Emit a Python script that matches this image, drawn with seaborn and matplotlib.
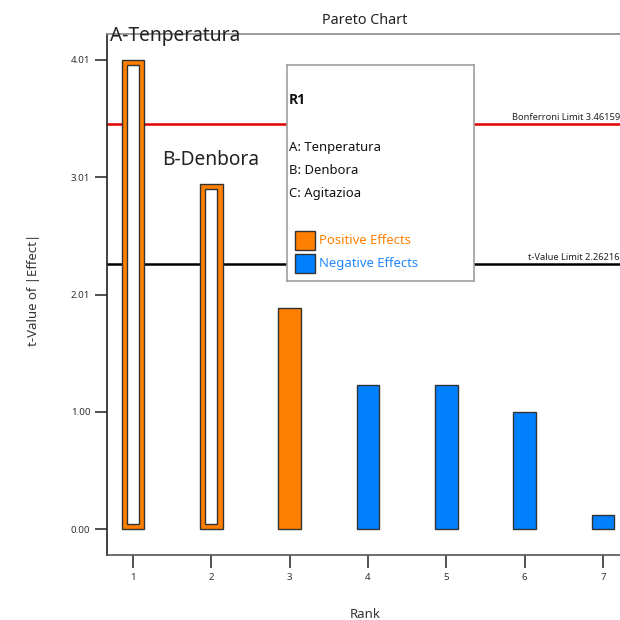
import matplotlib
matplotlib.use("Agg")
import matplotlib.pyplot as plt
import numpy as np
import pandas as pd
import seaborn as sns

# Pareto chart of standardized effects
ranks = [1, 2, 3, 4, 5, 6, 7]
t_values = [4.01, 2.95, 1.89, 1.234, 1.229, 1.00, 0.122]
effect_sign = ["Positive", "Positive", "Positive", "Negative", "Negative", "Negative", "Negative"]
term_labels = {1: "A-Tenperatura", 2: "B-Denbora"}
factor_names = ["A: Tenperatura", "B: Denbora", "C: Agitazioa"]
bonferroni_limit = 3.46159
t_limit = 2.26216
ytick_values = [0.0, 1.0025, 2.005, 3.0075, 4.01]
ytick_labels = ["0.00", "1.00", "2.01", "3.01", "4.01"]

orange = "#FF8000"
blue = "#0080FF"
edge = "#333333"

df = pd.DataFrame({"Rank": ranks, "t": t_values, "Effect": effect_sign})

sns.set_theme(style="white")
plt.rcParams["font.family"] = ["Noto Sans", "DejaVu Sans"]

fig = plt.figure(figsize=(6.2, 6.2), dpi=100)
ax = fig.add_axes([107 / 620, 1 - 555 / 620, 516 / 620, (555 - 34) / 620])

sns.barplot(data=df, x="Rank", y="t", hue="Effect", dodge=False, native_scale=True,
            palette={"Positive": orange, "Negative": blue}, width=0.29, saturation=1,
            edgecolor=edge, linewidth=1.0, legend=False, ax=ax, zorder=3)

# significant terms are drawn hollow
sig = df[df["t"] > t_limit]
inset = 0.045
ax.bar(sig["Rank"], sig["t"] - 2 * inset, bottom=inset, width=0.15,
       color="white", edgecolor=edge, linewidth=1.0, zorder=4)

ax.axhline(bonferroni_limit, color="#E00000", lw=1.8, zorder=2)
ax.axhline(t_limit, color="black", lw=1.8, zorder=2)

ax.set_xlim(0.668, 7.255)
ax.set_ylim(-0.222, 4.232)
ax.set_xticks(ranks)
ax.set_xticklabels([str(r) for r in ranks])
ax.set_yticks(ytick_values)
ax.set_yticklabels(ytick_labels)
ax.tick_params(axis="both", which="both", direction="out", length=9, width=1.2,
               colors="#333333", labelsize=7, left=True, bottom=True, pad=3)
ax.tick_params(axis="x", pad=4)

ax.spines["left"].set_color("#222222")
ax.spines["left"].set_linewidth(1.2)
ax.spines["bottom"].set_color("#555555")
ax.spines["bottom"].set_linewidth(1.2)
ax.spines["top"].set_color("#8a8a8a")
ax.spines["top"].set_linewidth(1.2)
ax.spines["right"].set_visible(False)

ax.set_xlabel("")
ax.set_ylabel("")
fig.text(365 / 620, 1 - 20 / 620, "Pareto Chart", ha="center", va="center", fontsize=10.3, color="#222222")
fig.text(33 / 620, 1 - 290 / 620, "t-Value of |Effect|", rotation=90, ha="center", va="center",
         fontsize=9.5, color="#333333")
fig.text(365 / 620, 1 - 615 / 620, "Rank", ha="center", va="center", fontsize=9.5, color="#333333")

# term labels over the significant bars
ax.text(0.705, 4.215, term_labels[1], ha="left", va="center", fontsize=13.8, color="#222222", zorder=6)
ax.text(1.37, 3.157, term_labels[2], ha="left", va="center", fontsize=13.8, color="#222222", zorder=6)

# limit annotations at the right edge
ax.annotate(f"Bonferroni Limit {bonferroni_limit:.5f}", xy=(620 / 620, bonferroni_limit),
            xycoords=("figure fraction", "data"), ha="right", va="bottom",
            fontsize=6.7, color="#222222", xytext=(0, 1.5), textcoords="offset points")
ax.annotate(f"t-Value Limit {t_limit:.5f}", xy=(620 / 620, t_limit),
            xycoords=("figure fraction", "data"), ha="right", va="bottom",
            fontsize=6.7, color="#222222", xytext=(0, 1.5), textcoords="offset points")

# legend panel
lg = fig.add_axes([287 / 620, 1 - 281 / 620, 187 / 620, 216 / 620])
lg.set_xlim(0, 187)
lg.set_ylim(216, 0)
lg.set_xticks([])
lg.set_yticks([])
lg.set_facecolor("white")
for s in lg.spines.values():
    s.set_color("#a0a0a0")
    s.set_linewidth(1.2)
lg.text(2, 35, "R1", fontsize=10, fontweight="bold", family=["Open Sans", "DejaVu Sans"],
        va="center", ha="left", color="#111111")
for i, name in enumerate(factor_names):
    lg.text(2, 82 + 23 * i, name, fontsize=9.4, va="center", ha="left", color="#111111")
lg.add_patch(plt.Rectangle((8, 166), 20, 19, facecolor=orange, edgecolor=edge, lw=1.0))
lg.add_patch(plt.Rectangle((8, 189), 20, 19, facecolor=blue, edgecolor=edge, lw=1.0))
lg.text(32, 175.5, "Positive Effects", fontsize=9.4, va="center", ha="left", color=orange)
lg.text(32, 198.5, "Negative Effects", fontsize=9.4, va="center", ha="left", color="#2288FF")

fig.savefig("out.png", dpi=100)
